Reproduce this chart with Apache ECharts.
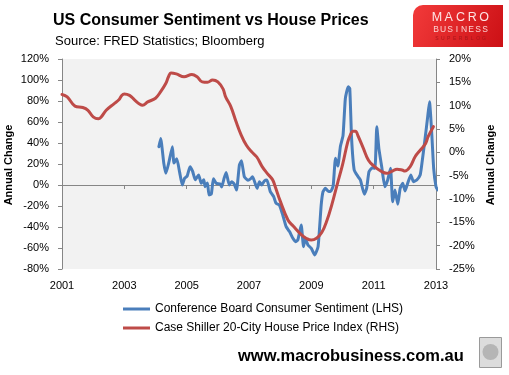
<!DOCTYPE html>
<html>
<head>
<meta charset="utf-8">
<script src="https://cdn.jsdelivr.net/npm/echarts@6/dist/echarts.min.js"></script>
<style>
html,body{margin:0;padding:0;background:#fff;}
#chart{width:509px;height:375px;}
</style>
</head>
<body>
<div id="chart"></div>
<script>
// Months since Jan 2001 and annual change (%) — Conference Board Consumer Sentiment (LHS)
const blueMonths = [37.3,38,39.2,40,41.1,42.5,43.1,44.2,45.3,46.3,47.2,48.2,49.3,50.3,51.3,52.6,53.6,54.6,55.1,56,56.6,57.5,58.3,59.4,60.9,61.5,62.4,63.2,64.4,65.3,66.3,67.2,68.3,69.1,70.2,71.6,72.8,73.4,75.1,76,76.9,77.9,78.9,80.2,81.5,82.4,83.7,85,86.3,87.6,88.9,89.9,90.8,92.1,93,93.7,94.7,96,97.3,98.6,99.8,100.5,101.4,102.4,103.4,104.4,105.3,106.2,107.2,108.2,109.1,110.2,110.8,111.5,112.5,114,114.9,116.4,117.3,118.2,119.5,120.5,121.2,122,123.1,124.3,125.4,126.5,127.3,128.2,129.3,130.2,131.2,132.1,133.1,134.3,135.3,136.6,137.9,138.5,139.8,140.8,141.5,142.4,143.1,144,144.7];
const blueValues = [36.5,44.4,20.6,11.1,21,36.5,21,25,12,0,6.5,8.5,17.4,13,5,9.5,1.6,5,-1.6,2,-9.5,-8.5,6,1.6,1,-2,6.3,12,0,3.2,1,-4.8,19,23,7.9,4.5,6.3,7.9,-3.2,3.2,0,3.8,4.8,-6.3,-11.1,-17.4,-19,-28.6,-39.7,-44.4,-50.8,-54,-52.4,-38.1,-58.7,-50.8,-57.1,-60.3,-66.6,-58.7,-19,-6.3,-3.2,-5.7,-6.3,-1,25.4,18,37,47,82.5,93.6,92,44.4,14.3,7.9,4.8,-8.9,-3.2,12.7,16.5,15.9,55.5,34.9,17.4,-1.6,4.8,15.9,-15.9,-4.8,-18.4,-3.2,1.6,-5.7,1.6,9.5,3.2,4.8,9.5,19,44.4,65,79.3,47.6,15.9,-1.6,-4.8];

// Months since Jan 2001 and annual change (%) — Case Shiller 20-City House Price Index (RHS)
const redMonths = [0,2,5,8,10,12,14,15,17,20,22,23,24,26,28,30,31,33,36,38,40,41,42,44,47,50,52,54,56,58,60,62,63,65,67,69,71,73,75,77,79,81,82,84,87,89,92,94,96,98,100,102,104,106,108,110,111,112,113,114,116,118,120,123,125,127,129,131,132,134,136,138,140,141,143];
const redValues = [12.4,11.9,9.9,9.6,9.0,7.6,7.2,7.5,9.0,10.4,11.3,12.2,12.5,12.2,11.2,10.3,10.1,10.8,11.6,13.0,14.8,16.2,17.0,16.8,16.2,16.7,16.2,15.1,15.0,15.5,15.1,13.6,11.9,9.8,6.6,3.7,1.5,0.1,-1.0,-3.0,-4.5,-5.8,-7.2,-10.4,-14.5,-15.8,-17.6,-18.4,-18.8,-18.4,-17.2,-14.6,-11.0,-6.8,-2.7,2.2,3.7,4.5,4.5,3.5,0.9,-1.7,-2.9,-4.1,-4.5,-4.1,-3.6,-3.8,-4.0,-3.1,-0.9,0.5,1.9,3.4,5.5];

const seriesNames = ['Conference Board Consumer Sentiment (LHS)', 'Case Shiller 20-City House Price Index (RHS)'];
const startYear = 2001;

const toPairs = (ms, vs) => ms.map((m, i) => [startYear + m / 12, vs[i]]);

const FONT = '"Liberation Sans", Arial, sans-serif';
const axisGray = '#868686';

function spaced(text, x0, x1, y, font, color) {
  const n = text.length;
  const step = n > 1 ? (x1 - x0) / (n - 1) : 0;
  return text.split('').map((ch, i) => ({
    type: 'text', x: x0 + i * step, y: y, silent: true,
    style: { text: ch, font: font, fill: color, align: 'center', verticalAlign: 'middle' }
  }));
}

const chart = echarts.init(document.getElementById('chart'), null, { renderer: 'canvas' });
chart.setOption({
  animation: false,
  backgroundColor: '#ffffff',
  grid: { left: 62, right: 73, top: 59, bottom: 106, show: true, backgroundColor: '#F2F2F2', borderWidth: 0 },
  legend: {
    orient: 'vertical', left: 123, top: 302, padding: 0,
    itemWidth: 27, itemHeight: 3, itemGap: 5,
    textStyle: { fontFamily: FONT, fontSize: 12, color: '#000', lineHeight: 14 },
    data: [{ name: seriesNames[0], icon: 'rect' }, { name: seriesNames[1], icon: 'rect' }]
  },
  xAxis: [
    {
      type: 'value', min: 2001, max: 2013, interval: 2, position: 'bottom',
      axisLine: { show: true, onZero: true, onZeroAxisIndex: 0, lineStyle: { color: axisGray, width: 1 } },
      axisTick: { show: true, length: 4, lineStyle: { color: axisGray } },
      axisLabel: { show: false }, splitLine: { show: false }
    },
    {
      type: 'value', min: 2001, max: 2013, interval: 2, position: 'bottom',
      axisLine: { show: false, onZero: false }, axisTick: { show: false }, splitLine: { show: false },
      axisLabel: { show: true, margin: 11, fontFamily: FONT, fontSize: 11, color: '#000', formatter: v => String(v) }
    }
  ],
  yAxis: [
    {
      type: 'value', min: -80, max: 120, interval: 20, position: 'left',
      axisLine: { show: true, lineStyle: { color: axisGray } },
      axisTick: { show: true, length: 4, lineStyle: { color: axisGray } },
      splitLine: { show: false },
      axisLabel: { margin: 13, fontFamily: FONT, fontSize: 11, color: '#000', formatter: v => v + '%' }
    },
    {
      type: 'value', min: -25, max: 20, interval: 5, position: 'right',
      axisLine: { show: true, lineStyle: { color: axisGray } },
      axisTick: { show: true, length: 4, lineStyle: { color: axisGray } },
      splitLine: { show: false },
      axisLabel: { margin: 13, fontFamily: FONT, fontSize: 11, color: '#000', formatter: v => v + '%' }
    }
  ],
  series: [
    {
      name: seriesNames[0], type: 'line', xAxisIndex: 0, yAxisIndex: 0,
      data: toPairs(blueMonths, blueValues), showSymbol: false, smooth: 0.15,
      color: '#4A7EBB',
      lineStyle: { color: '#4A7EBB', width: 3, cap: 'round', join: 'round' }, z: 2
    },
    {
      name: seriesNames[1], type: 'line', xAxisIndex: 0, yAxisIndex: 1,
      data: toPairs(redMonths, redValues), showSymbol: false, smooth: 0.4,
      color: '#BE4B48',
      lineStyle: { color: '#BE4B48', width: 3, cap: 'round', join: 'round' }, z: 3
    }
  ],
  graphic: [
    { type: 'text', x: 53, y: 21, silent: true,
      style: { text: 'US Consumer Sentiment vs House Prices', font: 'bold 16px ' + FONT, fill: '#000', align: 'left', verticalAlign: 'middle' } },
    { type: 'text', x: 55, y: 41.5, silent: true,
      style: { text: 'Source: FRED Statistics; Bloomberg', font: '13px ' + FONT, fill: '#000', align: 'left', verticalAlign: 'middle' } },
    { type: 'text', x: 9, y: 165, rotation: Math.PI / 2, silent: true,
      style: { text: 'Annual Change', font: 'bold 11px ' + FONT, fill: '#000', align: 'center', verticalAlign: 'middle' } },
    { type: 'text', x: 491, y: 165, rotation: Math.PI / 2, silent: true,
      style: { text: 'Annual Change', font: 'bold 11px ' + FONT, fill: '#000', align: 'center', verticalAlign: 'middle' } },
    { type: 'text', x: 238, y: 356, silent: true,
      style: { text: 'www.macrobusiness.com.au', font: 'bold 16.5px ' + FONT, fill: '#000', align: 'left', verticalAlign: 'middle' } },
    { type: 'rect', silent: true, shape: { x: 413, y: 5, width: 90, height: 42, r: [10, 0, 0, 0] },
      style: { fill: { type: 'linear', x: 0, y: 0, x2: 1, y2: 1, colorStops: [{ offset: 0, color: '#f23a3a' }, { offset: 1, color: '#cc1015' }] } } },
    ...spaced('MACRO', 437, 484, 17.5, '12.5px ' + FONT, '#fde4e4'),
    ...spaced('BUSINESS', 436, 485, 29.5, '8.5px ' + FONT, '#fbd2d2'),
    ...spaced('SUPERBLOG', 437, 484, 39, '5px ' + FONT, '#a8161a'),
    { type: 'rect', silent: true, shape: { x: 479.5, y: 337.5, width: 22, height: 30 },
      style: { fill: '#dcdcdc', stroke: '#9a9a9a', lineWidth: 1 } },
    { type: 'circle', silent: true, shape: { cx: 490.5, cy: 352, r: 8 }, style: { fill: '#b5b5b5' } }
  ]
});
</script>
</body>
</html>
